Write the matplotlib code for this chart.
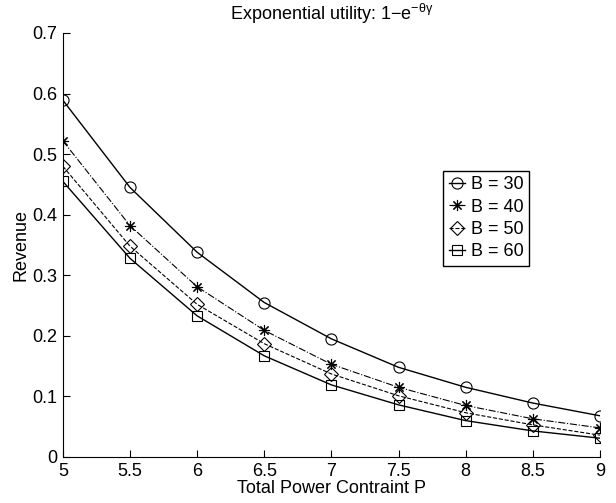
import matplotlib
matplotlib.use('Agg')
import matplotlib.pyplot as plt

plt.rcParams['font.family'] = ['Liberation Sans', 'DejaVu Sans']
plt.rcParams['mathtext.fontset'] = 'custom'
plt.rcParams['mathtext.rm'] = 'Liberation Sans'
plt.rcParams['mathtext.it'] = 'Liberation Sans:italic'

# total power constraint P
power = [5, 5.5, 6, 6.5, 7, 7.5, 8, 8.5, 9]

# revenue for each B
rev_b30 = [0.589, 0.445, 0.338, 0.255, 0.195, 0.148, 0.115, 0.089, 0.068]
rev_b40 = [0.522, 0.382, 0.281, 0.209, 0.153, 0.115, 0.085, 0.063, 0.048]
rev_b50 = [0.480, 0.348, 0.252, 0.187, 0.137, 0.101, 0.073, 0.053, 0.036]
rev_b60 = [0.455, 0.328, 0.233, 0.167, 0.119, 0.086, 0.060, 0.043, 0.031]

labels = ['B = 30', 'B = 40', 'B = 50', 'B = 60']

fig = plt.figure(figsize=(6.16, 5.03), dpi=100)
ax = fig.add_axes([0.102, 0.0915, 0.872, 0.843])

ms = 8
ax.plot(power, rev_b30, '-', color='k', lw=1, marker='o', ms=ms, mfc='none', mew=0.8, label=labels[0])
ax.plot(power, rev_b40, '-.', color='k', lw=0.8, marker=(8, 2, 0), ms=ms, mew=0.8, label=labels[1])
ax.plot(power, rev_b50, '--', color='k', lw=0.8, marker='D', ms=ms - 1, mfc='none', mew=0.8, label=labels[2])
ax.plot(power, rev_b60, '-', color='k', lw=1, marker='s', ms=ms - 1, mfc='none', mew=0.8, label=labels[3])

ax.set_xlim(5, 9)
ax.set_ylim(0, 0.7)
ax.set_xticks(power)
ax.set_xticklabels(['5', '5.5', '6', '6.5', '7', '7.5', '8', '8.5', '9'])
ax.set_yticks([0, 0.1, 0.2, 0.3, 0.4, 0.5, 0.6, 0.7])
ax.set_yticklabels(['0', '0.1', '0.2', '0.3', '0.4', '0.5', '0.6', '0.7'])

ax.spines['top'].set_visible(False)
ax.spines['right'].set_visible(False)
ax.tick_params(direction='in', length=5, labelsize=13, pad=4)

ax.set_xlabel('Total Power Contraint P', fontsize=13, labelpad=0)
ax.set_ylabel('Revenue', fontsize=13, labelpad=2)
ax.set_title(r'Exponential utility: 1$-$e$^{-\mathrm{\theta\gamma}}$', fontsize=13, pad=9)

leg = ax.legend(loc='upper left', bbox_to_anchor=(0.708, 0.675), fontsize=13,
                fancybox=False, edgecolor='k', framealpha=1, handlelength=0.9,
                handletextpad=0.35, borderpad=0.3, labelspacing=0.3, borderaxespad=0)
leg.get_frame().set_linewidth(1)

fig.savefig('out.png', dpi=100)
